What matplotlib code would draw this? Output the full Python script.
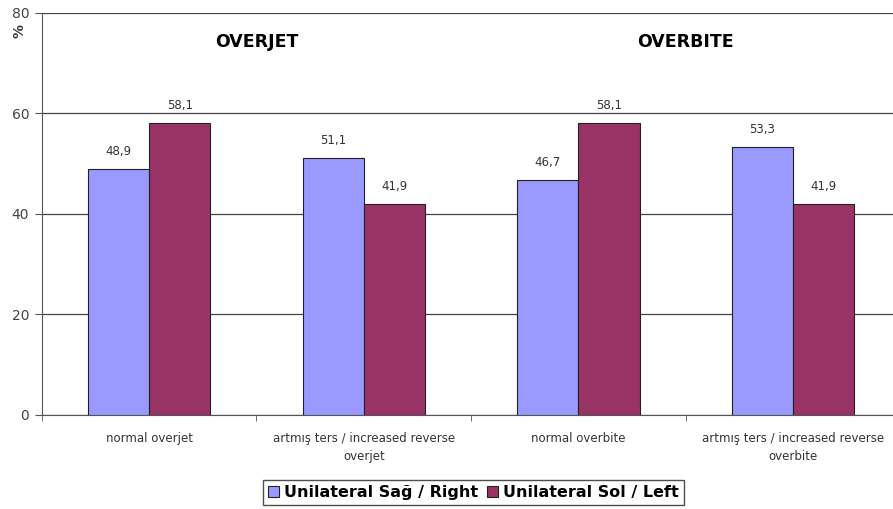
import matplotlib
matplotlib.use("Agg")
import matplotlib.pyplot as plt
import numpy as np

categories = ["normal overjet", "artmış ters / increased reverse\noverjet",
              "normal overbite", "artmış ters / increased reverse\noverbite"]
right_vals = [48.9, 51.1, 46.7, 53.3]
left_vals = [58.1, 41.9, 58.1, 41.9]
series_names = ["Unilateral Sağ / Right", "Unilateral Sol / Left"]
y_ticks = [0, 20, 40, 60, 80]

BLUE = "#9999FF"
RED = "#993366"

fig = plt.figure(figsize=(8.93, 5.09), dpi=100)
ax = fig.add_axes([0.0467, 0.1847, 0.9617, 0.7898])

x = np.arange(len(categories))
w = 0.285
b1 = ax.bar(x - w / 2, right_vals, w, color=BLUE, edgecolor="#222222", linewidth=0.8,
            label=series_names[0], zorder=3)
b2 = ax.bar(x + w / 2, left_vals, w, color=RED, edgecolor="#222222", linewidth=0.8,
            label=series_names[1], zorder=3)

for bars, vals in ((b1, right_vals), (b2, left_vals)):
    for bar, v in zip(bars, vals):
        ax.text(bar.get_x() + bar.get_width() / 2, v + 2.2, f"{v:.1f}".replace(".", ","),
                ha="center", va="bottom", fontsize=8.5, color="#333333")

ax.set_xlim(-0.5, len(categories) - 0.5)
ax.set_ylim(0, 80)
ax.set_yticks(y_ticks)
ax.set_yticklabels([str(t) for t in y_ticks], fontsize=10, color="#444444")
ax.yaxis.grid(True, color="#444444", linewidth=0.9, zorder=0)
ax.set_axisbelow(True)

ax.set_xticks(np.arange(len(categories) + 1) - 0.5, minor=True)
ax.set_xticks(x)
ax.set_xticklabels(categories, fontsize=8.5, color="#333333", linespacing=1.5)
ax.tick_params(axis="x", which="major", length=0, pad=12)
ax.tick_params(axis="x", which="minor", length=4, color="#555555")
ax.tick_params(axis="y", length=5, color="#555555", pad=4)

for s in ("top", "right"):
    ax.spines[s].set_visible(False)
ax.spines["left"].set_color("#555555")
ax.spines["bottom"].set_color("#555555")

ax.text(0.5, 74.2, "OVERJET", ha="center", va="center", fontsize=12.5, fontweight="bold")
ax.text(2.5, 74.2, "OVERBITE", ha="center", va="center", fontsize=12.5, fontweight="bold")

fig.text(0.022, 0.94, "%", rotation=90, ha="center", va="center", fontsize=10,
         fontweight="bold", color="#333333")

leg = fig.legend(handles=[b1, b2], loc="center", bbox_to_anchor=(0.53, 0.032), ncol=2,
                 frameon=True, fancybox=False, edgecolor="#222222",
                 prop={"weight": "bold", "size": 11.5}, handlelength=0.7, handleheight=0.7,
                 handletextpad=0.3, columnspacing=0.6, borderpad=0.3)
leg.get_frame().set_linewidth(1.0)

fig.savefig("out.png", dpi=100)
